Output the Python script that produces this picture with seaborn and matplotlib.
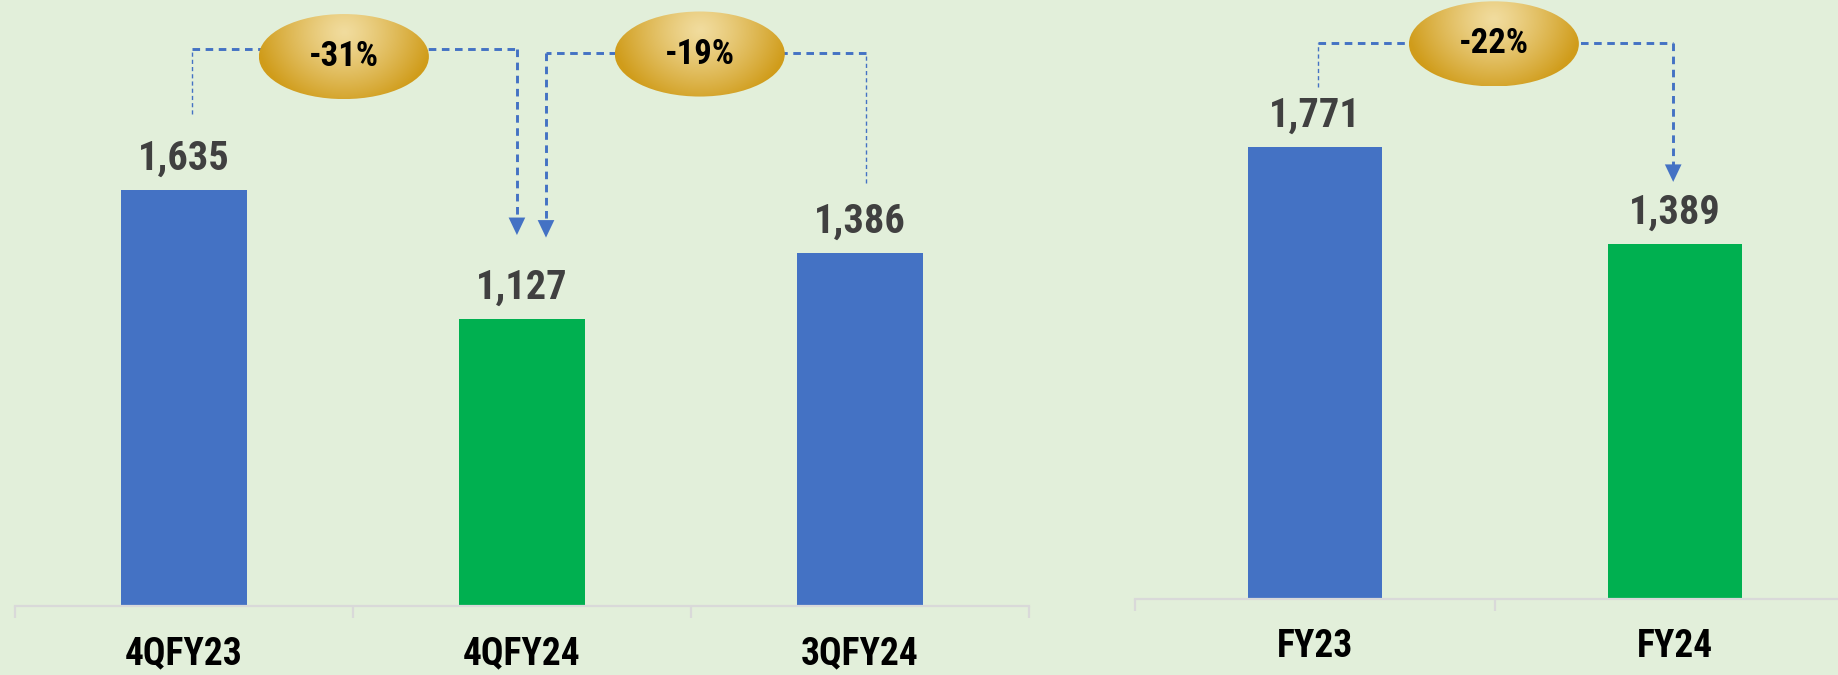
import numpy as np
import pandas as pd
import matplotlib
matplotlib.use("Agg")
import matplotlib.pyplot as plt
from matplotlib import font_manager
from matplotlib.patches import Ellipse
import seaborn as sns

# ---- data -------------------------------------------------------------
quarters = ["4QFY23", "4QFY24", "3QFY24"]
quarter_values = [1635, 1127, 1386]
quarter_colors = ["#4472C4", "#00B050", "#4472C4"]

years = ["FY23", "FY24"]
year_values = [1771, 1389]
year_colors = ["#4472C4", "#00B050"]

# (from index, to index) pairs for the change bubbles
quarter_links = [(0, 1), (2, 1)]
year_links = [(0, 1)]

# ---- style ------------------------------------------------------------
BG = "#E2EFDA"
AXIS_GREY = "#D9D9D9"
LINK_BLUE = "#4472C4"
VALUE_GREY = "#404040"

sns.set_theme(style="white")


def pick_narrow_font():
    fonts = font_manager.fontManager.ttflist
    names = {f.name for f in fonts}
    for name in ("Liberation Sans Narrow", "Arial Narrow", "Roboto Condensed",
                 "Open Sans Condensed", "Noto Sans Condensed",
                 "DejaVu Sans Condensed"):
        if name in names:
            return dict(family=name), 1.0
    narrow = ("condensed", "semi-condensed", "extra-condensed")
    for fam in ("Noto Sans", "Open Sans", "Roboto", "DejaVu Sans"):
        for f in fonts:
            if f.name == fam and str(f.stretch) in narrow:
                return dict(family=fam, stretch=f.stretch), 1.0
    return dict(family="Roboto"), 0.88


NARROW, SCALE = pick_narrow_font()

W, H, DPI = 1838, 675, 100
fig = plt.figure(figsize=(W / DPI, H / DPI), dpi=DPI, facecolor=BG)

ax_q = fig.add_axes([15 / W, (H - 606) / H, 1014 / W, 606 / H])
ax_y = fig.add_axes([1135 / W, (H - 599.3) / H, 720 / W, 599.3 / H])

Q_TOP = 606 / 0.2546
Y_TOP = 599.3 / 0.2556


def draw_bars(ax, cats, vals, colors, ytop):
    df = pd.DataFrame({"cat": cats, "val": vals})
    sns.barplot(data=df, x="cat", y="val", hue="cat", palette=colors,
                width=0.37, saturation=1, legend=False, ax=ax, zorder=2,
                linewidth=0, edgecolor="none")
    ax.set_facecolor("none")
    for s in ("left", "right", "top"):
        ax.spines[s].set_visible(False)
    ax.spines["bottom"].set_color(AXIS_GREY)
    ax.spines["bottom"].set_linewidth(1.6)
    ax.set_yticks([])
    ax.set_xlabel("")
    ax.set_ylabel("")
    n = len(cats)
    ax.set_xticks(range(n))
    ax.set_xticklabels(cats)
    ax.set_xticks(np.arange(n + 1) - 0.5, minor=True)
    ax.tick_params(axis="x", which="major", bottom=False, length=0, pad=21)
    ax.tick_params(axis="x", which="minor", bottom=True, length=8.5,
                   width=1.6, color=AXIS_GREY, direction="out")
    fp = font_manager.FontProperties(size=27 * SCALE, weight="bold", **NARROW)
    for lab in ax.get_xticklabels():
        lab.set_fontproperties(fp)
        lab.set_color("black")
    for i, v in enumerate(vals):
        ax.annotate(f"{v:,}", xy=(i, v), xytext=(0, 14.5),
                    textcoords="offset points", ha="center", va="baseline",
                    fontsize=29 * SCALE, fontweight="bold", color=VALUE_GREY,
                    **NARROW)
    ax.set_xlim(-0.5, n - 0.5)
    ax.set_ylim(0, ytop)


def gold_bubble(ax, cx, cy, w, h, text):
    ny, nx = 120, 240
    yy, xx = np.mgrid[0:1:ny * 1j, 0:1:nx * 1j]
    # pale highlight toward the upper middle, deeper gold toward the rim
    d = np.sqrt(((xx - 0.5) / 0.52) ** 2 + ((yy - 0.22) / 0.9) ** 2)
    t = np.clip(d, 0, 1) ** 1.2
    light = np.array([241, 220, 158]) / 255
    dark = np.array([208, 156, 26]) / 255
    img = light[None, None, :] * (1 - t[..., None]) + dark[None, None, :] * t[..., None]
    ell = Ellipse((cx, cy), w, h, transform=ax.transData,
                  facecolor="none", edgecolor="none")
    ax.add_patch(ell)
    im = ax.imshow(img, extent=(cx - w / 2, cx + w / 2, cy - h / 2, cy + h / 2),
                   origin="upper", aspect="auto", zorder=5,
                   interpolation="bilinear")
    im.set_clip_path(ell)
    ax.text(cx, cy, text, ha="center", va="center", fontsize=25 * SCALE,
            fontweight="bold", color="black", zorder=6, **NARROW)


def link(ax, vals, i, j, src_dx, src_gap, level, dst_dx, tip_gap,
         bubble_x, bubble_y, bw, bh):
    x0 = i + src_dx
    x1 = j + dst_dx
    y0 = vals[i] + src_gap
    tip = vals[j] + tip_gap
    # thin dashed riser above the starting bar
    ax.plot([x0, x0], [y0, level], color=LINK_BLUE, lw=1.0,
            ls=(0, (3.0, 2.2)), zorder=3)
    # heavier dashed bracket toward the target bar
    ax.plot([x0, x1], [level, level], color=LINK_BLUE, lw=2.1,
            ls=(0, (2.6, 1.9)), zorder=3)
    ax.plot([x1, x1], [level, tip + 45], color=LINK_BLUE, lw=2.1,
            ls=(0, (2.6, 1.9)), zorder=3)
    ax.annotate("", xy=(x1, tip), xytext=(x1, tip + 90),
                arrowprops=dict(arrowstyle="-|>,head_length=1.05,head_width=0.5",
                                color=LINK_BLUE, lw=0, shrinkA=0, shrinkB=0),
                zorder=4)
    change = round((vals[j] / vals[i] - 1) * 100)
    gold_bubble(ax, bubble_x, bubble_y, bw, bh, f"{change}%")


draw_bars(ax_q, quarters, quarter_values, quarter_colors, Q_TOP)
draw_bars(ax_y, years, year_values, year_colors, Y_TOP)

# bubble / bracket layout for each link
q_layout = [
    dict(src_dx=0.024, src_gap=297, level=2188, dst_dx=-0.015, tip_gap=330,
         bubble_x=0.473, bubble_y=2158),
    dict(src_dx=0.018, src_gap=277, level=2173, dst_dx=0.071, tip_gap=320,
         bubble_x=1.526, bubble_y=2168),
]
for (i, j), lay in zip(quarter_links, q_layout):
    link(ax_q, quarter_values, i, j, bw=0.503, bh=334, **lay)

y_layout = [
    dict(src_dx=0.008, src_gap=233, level=2177, dst_dx=-0.005, tip_gap=244,
         bubble_x=0.497, bubble_y=2173),
]
for (i, j), lay in zip(year_links, y_layout):
    link(ax_y, year_values, i, j, bw=0.472, bh=333, **lay)

for ax, n, top in ((ax_q, 3, Q_TOP), (ax_y, 2, Y_TOP)):
    ax.set_xlim(-0.5, n - 0.5)
    ax.set_ylim(0, top)

fig.savefig("out.png", dpi=DPI, facecolor=BG)
